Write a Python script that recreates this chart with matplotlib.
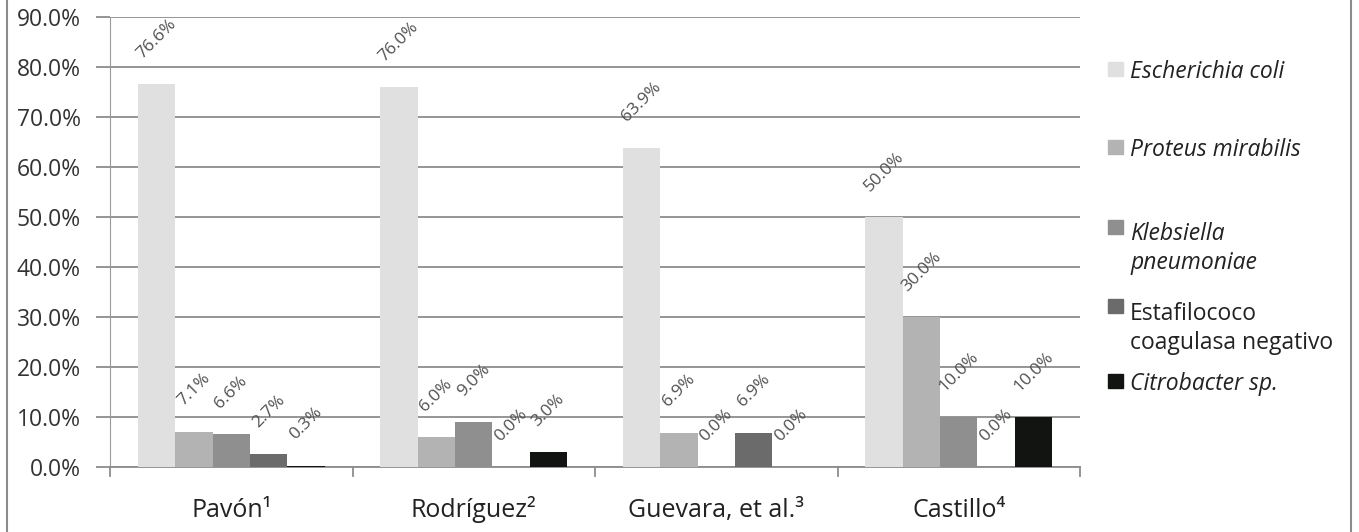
import numpy as np
import matplotlib.pyplot as plt
from matplotlib.lines import Line2D
from matplotlib.patches import Rectangle

plt.rcParams['font.family'] = ['Open Sans', 'DejaVu Sans']

# Porcentaje de aislamientos por estudio
estudios = ['Pavón¹', 'Rodríguez²', 'Guevara, et al.³', 'Castillo⁴']
especies = ['Escherichia coli', 'Proteus mirabilis', 'Klebsiella\npneumoniae',
            'Estafilococo\ncoagulasa negativo', 'Citrobacter sp.']
cursiva = [True, True, True, False, True]
e_coli = [76.6, 76.0, 63.9, 50.0]
proteus = [7.1, 6.0, 6.9, 30.0]
klebsiella = [6.6, 9.0, 0.0, 10.0]
estafilococo = [2.7, 0.0, 6.9, 0.0]
citrobacter = [0.3, 3.0, 0.0, 10.0]
series = [e_coli, proteus, klebsiella, estafilococo, citrobacter]
colores = ['#e0e0e0', '#b3b3b3', '#8f8f8f', '#6b6b6b', '#111411']

W, H = 1359, 532
fig = plt.figure(figsize=(W / 100, H / 100), dpi=100)
ax = fig.add_axes([110 / W, 65 / H, 970 / W, 450 / H])

x = np.arange(len(estudios))
ancho = 0.154
for i, (vals, c) in enumerate(zip(series, colores)):
    pos = x - 2 * ancho + i * ancho
    ax.bar(pos, vals, width=ancho, color=c, zorder=3)
    for px, v in zip(pos, vals):
        ax.annotate(f'{v:.1f}%', (px, v), xytext=(0, 16), textcoords='offset points',
                    ha='center', va='bottom', rotation=45, fontsize=12.5,
                    color='#505050', zorder=4)

ax.set_xlim(-0.5, len(estudios) - 0.5)
ax.set_ylim(0, 90)
ax.set_yticks(np.arange(0, 91, 10))
ax.set_yticklabels([f'{v:.1f}%' for v in np.arange(0, 91, 10)], fontsize=16.5, color='#333333')
ax.yaxis.grid(True, color='#8c8c8c', linewidth=1.3, zorder=0)
ax.tick_params(axis='y', length=10, width=1.3, color='#8c8c8c', pad=11)

# Etiquetas de estudio alineadas por la línea base
ax.set_xticks(x)
ax.set_xticklabels(estudios, fontsize=18, color='#222222')
ax.tick_params(axis='x', length=0, pad=36)
for lbl in ax.get_xticklabels():
    lbl.set_verticalalignment('baseline')
for b in np.arange(-0.5, len(estudios), 1.0):
    ax.plot([b, b], [0, -1.7], color='#8c8c8c', linewidth=1.3, clip_on=False, zorder=3)

for s in ['top', 'right']:
    ax.spines[s].set_visible(False)
ax.spines['left'].set_color('#9a9a9a')
ax.spines['bottom'].set_color('#8c8c8c')
ax.spines['bottom'].set_linewidth(1.3)

# Leyenda a la derecha: línea base de la primera y de la última línea de cada entrada
bases = [78, 156, 236, 315, 390]
ultimas = [78, 156, 269, 349, 390]
for yb, yl, nombre, it, c in zip(bases, ultimas, especies, cursiva, colores):
    fig.patches.append(Rectangle((1108 / W, 1 - (yb - 2) / H), 15 / W, 14 / H,
                                 transform=fig.transFigure, color=c))
    fig.text(1130 / W, 1 - yl / H, nombre, fontsize=16.5, color='#222222',
             style='italic' if it else 'normal', va='baseline', linespacing=1.3)

# Marco del gráfico
fig.add_artist(Line2D([7 / W, 7 / W], [0, 1], transform=fig.transFigure,
                      color='#8c8c8c', linewidth=1.5))
fig.add_artist(Line2D([1351 / W, 1351 / W], [0, 1], transform=fig.transFigure,
                      color='#8c8c8c', linewidth=1.5))

fig.savefig('out.png', dpi=100)
